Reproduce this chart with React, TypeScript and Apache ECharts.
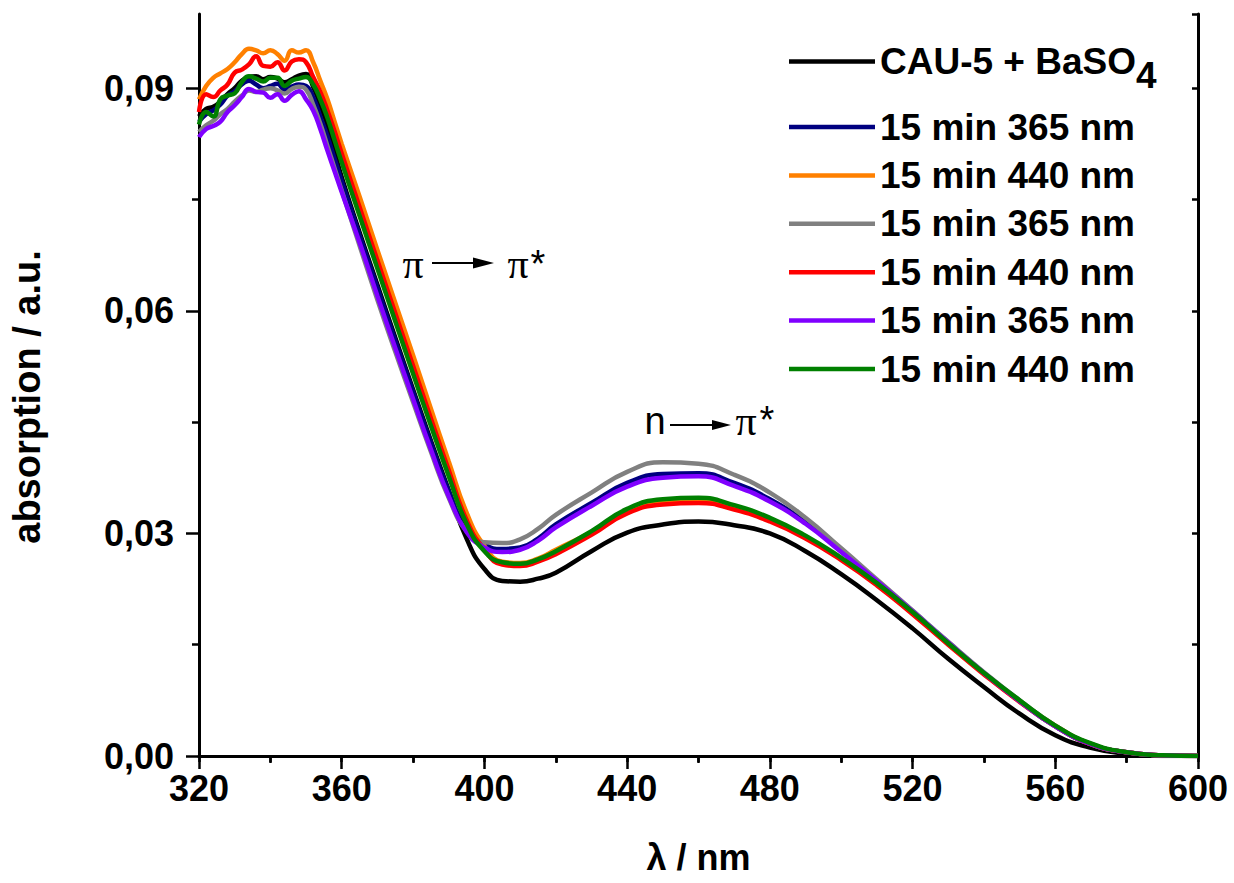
import React, { useEffect, useRef } from 'react';
import * as echarts from 'echarts';

const FONT = "'Liberation Sans', Arial, sans-serif";
const SERIF = "'Liberation Serif', 'Times New Roman', serif";

const wavelengths = [
  320, 322, 324, 326, 328, 330, 332, 334, 336, 338, 340, 342, 344, 346, 348, 350, 352, 354, 356, 358,
  360, 365, 370, 375, 380, 385, 390, 395, 400, 405, 410, 415, 420,
  430, 440, 450, 460, 470, 480, 490, 500, 510, 520, 530, 540, 550, 560, 570, 580, 590, 600,
];

const cauBaso4 = [
  0.0862, 0.0872, 0.0875, 0.0882, 0.0892, 0.09, 0.091, 0.0915, 0.0916, 0.0912, 0.0915, 0.0913, 0.0908, 0.0912, 0.0917, 0.0919, 0.0902, 0.0877, 0.085, 0.0815,
  0.078, 0.0706, 0.0635, 0.0564, 0.0494, 0.0425, 0.0358, 0.0293, 0.0252, 0.0236, 0.0235, 0.0239, 0.0247,
  0.0276, 0.0301, 0.0312, 0.0316, 0.0311, 0.03, 0.0276, 0.0245, 0.021, 0.0172, 0.0131, 0.0093, 0.0057, 0.0028, 0.0011, 0.0003, 0.0, 0.0,
];
const run1_365 = [
  0.0855, 0.0865, 0.087, 0.0878, 0.089, 0.0896, 0.0905, 0.091, 0.0905, 0.09, 0.0903, 0.0906, 0.0898, 0.0902, 0.0905, 0.0903, 0.0888, 0.0862, 0.0835, 0.0805,
  0.0775, 0.0702, 0.0631, 0.056, 0.0491, 0.0422, 0.0357, 0.0305, 0.0285, 0.0279, 0.0281, 0.0293, 0.0312,
  0.0341, 0.0368, 0.038, 0.0381, 0.0368, 0.0346, 0.0315, 0.0276, 0.0236, 0.0195, 0.0153, 0.0112, 0.0074, 0.004, 0.0016, 0.0005, 0.0001, 0.0,
];
const run1_440 = [
  0.0885, 0.0903, 0.0914, 0.092, 0.0926, 0.0935, 0.0946, 0.0953, 0.0951, 0.0947, 0.0951, 0.0946, 0.0937, 0.0951, 0.0948, 0.0951, 0.0935, 0.091, 0.0885, 0.0855,
  0.0825, 0.0754, 0.0682, 0.0611, 0.054, 0.0468, 0.0397, 0.0328, 0.0283, 0.0262, 0.026, 0.0266, 0.0278,
  0.0302, 0.0331, 0.0344, 0.0346, 0.0336, 0.0319, 0.0295, 0.0266, 0.0232, 0.0193, 0.0151, 0.0111, 0.0074, 0.0041, 0.0016, 0.0005, 0.0001, 0.0,
];
const run2_365 = [
  0.0841, 0.085, 0.0856, 0.0865, 0.0872, 0.0882, 0.089, 0.0897, 0.0895, 0.0898, 0.09, 0.0897, 0.0893, 0.0899, 0.0902, 0.0898, 0.0878, 0.0852, 0.0822, 0.0792,
  0.0762, 0.0688, 0.0615, 0.0545, 0.0477, 0.041, 0.0348, 0.0303, 0.0288, 0.0287, 0.0292, 0.0306, 0.0325,
  0.0355, 0.0383, 0.0396, 0.0394, 0.0379, 0.0355, 0.0321, 0.028, 0.0238, 0.0196, 0.0154, 0.0113, 0.0075, 0.0041, 0.0016, 0.0005, 0.0001, 0.0,
];
const run2_440 = [
  0.0868, 0.0892, 0.0888, 0.0897, 0.0905, 0.0921, 0.0925, 0.0932, 0.0943, 0.093, 0.0929, 0.0935, 0.0924, 0.0936, 0.0939, 0.0935, 0.0915, 0.0895, 0.087, 0.0842,
  0.0812, 0.074, 0.0668, 0.0597, 0.0526, 0.0455, 0.0385, 0.0318, 0.0278, 0.0258, 0.0256, 0.0262, 0.0272,
  0.0298, 0.0327, 0.0339, 0.0341, 0.0332, 0.0316, 0.0293, 0.0264, 0.023, 0.0191, 0.015, 0.011, 0.0073, 0.004, 0.0016, 0.0005, 0.0001, 0.0,
];
const run3_365 = [
  0.0834, 0.0845, 0.0849, 0.0855, 0.0868, 0.0877, 0.0888, 0.0899, 0.0895, 0.0894, 0.0887, 0.0892, 0.0883, 0.0891, 0.0896, 0.0885, 0.087, 0.0845, 0.0816, 0.0788,
  0.076, 0.0692, 0.062, 0.055, 0.0481, 0.0413, 0.035, 0.0302, 0.0281, 0.0275, 0.0278, 0.029, 0.0308,
  0.0337, 0.0363, 0.0375, 0.0377, 0.0364, 0.0343, 0.0313, 0.0275, 0.0236, 0.0195, 0.0153, 0.0112, 0.0074, 0.004, 0.0016, 0.0005, 0.0001, 0.0,
];
const run3_440 = [
  0.0851, 0.0868, 0.0862, 0.0885, 0.089, 0.0893, 0.0908, 0.0916, 0.0913, 0.0909, 0.0914, 0.0914, 0.0903, 0.091, 0.0913, 0.0915, 0.0905, 0.0885, 0.086, 0.083,
  0.08, 0.0728, 0.0657, 0.0586, 0.0515, 0.0445, 0.0377, 0.0313, 0.0276, 0.0261, 0.0259, 0.0265, 0.0276,
  0.0303, 0.0333, 0.0346, 0.0348, 0.0338, 0.0321, 0.0297, 0.0267, 0.0233, 0.0194, 0.0152, 0.0112, 0.0075, 0.0041, 0.0017, 0.0005, 0.0001, 0.0,
];

const seriesNames = [
  'CAU-5 + BaSO4',
  '15 min 365 nm (1)',
  '15 min 440 nm (1)',
  '15 min 365 nm (2)',
  '15 min 440 nm (2)',
  '15 min 365 nm (3)',
  '15 min 440 nm (3)',
];
const seriesValues = [cauBaso4, run1_365, run1_440, run2_365, run2_440, run3_365, run3_440];
const seriesColors = ['#000000', '#000080', '#ff8000', '#808080', '#ff0000', '#8000ff', '#008000'];

const xTicks = [320, 360, 400, 440, 480, 520, 560, 600];
const yMajor = [0, 0.03, 0.06, 0.09];
const yMinor = [0.015, 0.045, 0.075];

const axisLineStyle = { color: '#000', width: 3 };
const tickLine = { color: '#000', width: 2.5 };
const labelStyle = { fontSize: 36, fontWeight: 'bold' as const, color: '#000', fontFamily: FONT };

function buildOption() {
  const series = seriesNames.map((name, i) => ({
    name,
    type: 'line',
    data: wavelengths.map((w, j) => [w, seriesValues[i][j]]),
    showSymbol: false,
    smooth: 0.5,
    color: seriesColors[i],
    lineStyle: { width: 4.5, color: seriesColors[i] },
    z: 2 + i,
  }));

  return {
    animation: false,
    backgroundColor: '#fff',
    grid: { left: 199, right: 36, top: 14, bottom: 127, containLabel: false, outerBoundsMode: 'none' },
    xAxis: [
      {
        type: 'value',
        position: 'bottom',
        min: 320,
        max: 600,
        interval: 40,
        axisLine: { show: true, lineStyle: axisLineStyle },
        axisTick: { show: true, inside: false, length: 13, lineStyle: tickLine },
        minorTick: { show: true, splitNumber: 2, length: 7, lineStyle: tickLine },
        splitLine: { show: false },
        minorSplitLine: { show: false },
        axisLabel: { ...labelStyle, margin: 14, customValues: xTicks },
        name: 'λ / nm',
        nameLocation: 'middle',
        nameGap: 83,
        nameTextStyle: { fontSize: 36, fontWeight: 'bold', color: '#000', fontFamily: FONT },
      },
      {
        type: 'value',
        position: 'top',
        min: 320,
        max: 600,
        interval: 20,
        axisLine: { show: true, lineStyle: axisLineStyle },
        axisTick: { show: true, inside: true, length: 6, lineStyle: tickLine },
        axisLabel: { show: false },
        splitLine: { show: false },
      },
    ],
    yAxis: [
      {
        type: 'value',
        position: 'left',
        min: 0,
        max: 0.1,
        interval: 0.03,
        axisLine: { show: true, lineStyle: axisLineStyle },
        axisTick: { show: true, inside: false, length: 13, lineStyle: tickLine, customValues: yMajor },
        axisLabel: {
          ...labelStyle,
          margin: 25,
          customValues: yMajor,
          formatter: (v: number) => v.toFixed(2).replace('.', ','),
        },
        splitLine: { show: false },
        name: 'absorption / a.u.',
        nameLocation: 'middle',
        nameGap: 153,
        nameTextStyle: {
          fontSize: 38,
          fontWeight: 'bold',
          color: '#000',
          fontFamily: FONT,
          padding: [0, 24, 0, 0],
        },
      },
      {
        type: 'value',
        position: 'left',
        min: 0,
        max: 0.1,
        interval: 0.015,
        axisLine: { show: false },
        axisTick: { show: true, inside: false, length: 7, lineStyle: tickLine, customValues: yMinor },
        axisLabel: { show: false },
        splitLine: { show: false },
      },
      {
        type: 'value',
        position: 'right',
        min: 0,
        max: 0.1,
        interval: 0.015,
        axisLine: { show: true, lineStyle: axisLineStyle },
        axisTick: { show: true, inside: true, length: 6, lineStyle: tickLine },
        axisLabel: { show: false },
        splitLine: { show: false },
      },
    ],
    legend: [
      {
        data: [seriesNames[0]],
        left: 784,
        top: 24,
        orient: 'vertical',
        icon: 'rect',
        itemWidth: 86,
        itemHeight: 4.5,
        selectedMode: false,
        formatter: () => '{a|CAU-5 + BaSO}{b|4}',
        textStyle: {
          color: '#000',
          rich: {
            a: { fontSize: 37, fontWeight: 'bold', fontFamily: FONT, color: '#000', lineHeight: 40 },
            b: { fontSize: 37, fontWeight: 'bold', fontFamily: FONT, color: '#000', lineHeight: 40, padding: [28, 0, 0, 0] },
          },
        },
      },
      {
        data: seriesNames.slice(1),
        left: 784,
        top: 102,
        orient: 'vertical',
        icon: 'rect',
        itemWidth: 86,
        itemHeight: 4.5,
        itemGap: 8.4,
        selectedMode: false,
        formatter: (name: string) => name.replace(/ \(\d\)$/, ''),
        textStyle: {
          fontSize: 37,
          fontWeight: 'bold',
          fontFamily: FONT,
          color: '#000',
          lineHeight: 40,
        },
      },
    ],
    graphic: [
      { type: 'text', x: 413, y: 264, style: { text: 'π', font: `42px ${SERIF}`, fill: '#000', align: 'center', verticalAlign: 'middle', textAlign: 'center', textVerticalAlign: 'middle' } },
      { type: 'line', shape: { x1: 432, y1: 263, x2: 476, y2: 263 }, style: { stroke: '#000', lineWidth: 2 } },
      { type: 'polygon', shape: { points: [[473, 257.5], [494, 263], [473, 268.5]] }, style: { fill: '#000' } },
      { type: 'text', x: 518, y: 264, style: { text: 'π', font: `42px ${SERIF}`, fill: '#000', align: 'center', verticalAlign: 'middle', textAlign: 'center', textVerticalAlign: 'middle' } },
      { type: 'text', x: 538, y: 264, style: { text: '*', font: `38px ${FONT}`, fill: '#000', align: 'center', verticalAlign: 'middle', textAlign: 'center', textVerticalAlign: 'middle' } },
      { type: 'text', x: 655, y: 421, style: { text: 'n', font: `38px ${FONT}`, fill: '#000', align: 'center', verticalAlign: 'middle', textAlign: 'center', textVerticalAlign: 'middle' } },
      { type: 'line', shape: { x1: 670, y1: 425, x2: 715, y2: 425 }, style: { stroke: '#000', lineWidth: 2 } },
      { type: 'polygon', shape: { points: [[712, 420], [731, 425], [712, 430]] }, style: { fill: '#000' } },
      { type: 'text', x: 746, y: 421, style: { text: 'π', font: `42px ${SERIF}`, fill: '#000', align: 'center', verticalAlign: 'middle', textAlign: 'center', textVerticalAlign: 'middle' } },
      { type: 'text', x: 767, y: 420, style: { text: '*', font: `38px ${FONT}`, fill: '#000', align: 'center', verticalAlign: 'middle', textAlign: 'center', textVerticalAlign: 'middle' } },
    ],
    series,
  };
}

export default function App() {
  const ref = useRef<HTMLDivElement>(null);
  useEffect(() => {
    if (!ref.current) return;
    const chart = echarts.init(ref.current, null, { renderer: 'svg' });
    chart.setOption(buildOption() as any);
    return () => chart.dispose();
  }, []);
  return (
    <div
      ref={ref}
      style={{ position: 'fixed', left: 0, top: 0, width: 1234, height: 883, background: '#fff' }}
    />
  );
}
